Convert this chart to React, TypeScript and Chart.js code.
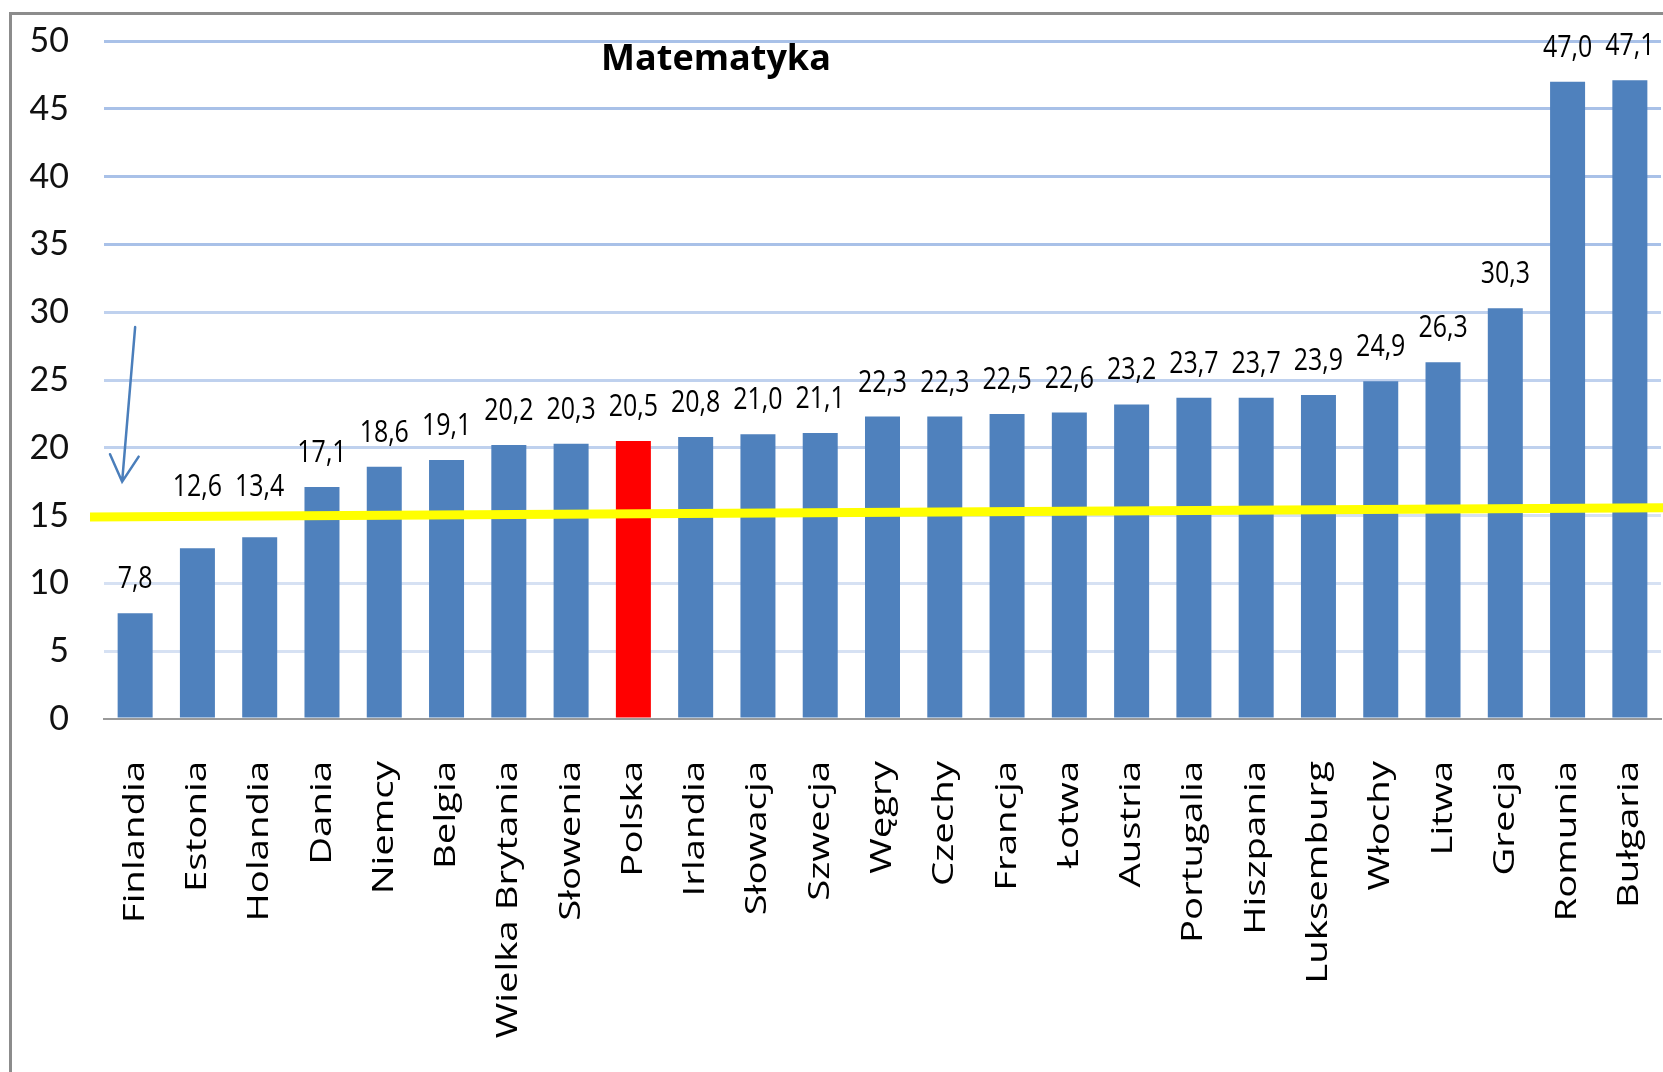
import React, { useEffect, useRef } from 'react';
import { Chart, registerables } from 'chart.js';

Chart.register(...registerables);

const TITLE = 'Matematyka';
const countries = [
  'Finlandia', 'Estonia', 'Holandia', 'Dania', 'Niemcy', 'Belgia', 'Wielka Brytania',
  'Słowenia', 'Polska', 'Irlandia', 'Słowacja', 'Szwecja', 'Węgry', 'Czechy', 'Francja',
  'Łotwa', 'Austria', 'Portugalia', 'Hiszpania', 'Luksemburg', 'Włochy', 'Litwa',
  'Grecja', 'Romunia', 'Bułgaria',
];
const values = [
  7.8, 12.6, 13.4, 17.1, 18.6, 19.1, 20.2, 20.3, 20.5, 20.8, 21.0, 21.1, 22.3, 22.3,
  22.5, 22.6, 23.2, 23.7, 23.7, 23.9, 24.9, 26.3, 30.3, 47.0, 47.1,
];
const highlighted = 'Polska';
const yMin = 0;
const yMax = 50;
const yStep = 5;
// hand-drawn yellow reference line: value at its left end, value at its right end
const referenceLine = [14.9, 15.57];
// arrow pointing down near the first category: start value, tip value
const arrowValues = [28.9, 17.5];

const fmt = (v: number) => v.toFixed(1).replace('.', ',');

const overlayPlugin = {
  id: 'overlay',
  afterDatasetsDraw(chart: any) {
    const { ctx, chartArea, scales } = chart;
    const x = scales.x;
    const y = scales.y;

    // yellow reference line
    const lx0 = chartArea.left - 14;
    const lx1 = chart.width;
    const ly0 = y.getPixelForValue(referenceLine[0]);
    const ly1 = y.getPixelForValue(referenceLine[1]);
    ctx.save();
    ctx.strokeStyle = '#FFFF00';
    ctx.lineWidth = 9;
    ctx.beginPath();
    ctx.moveTo(lx0, ly0);
    ctx.lineTo(lx1, ly1);
    ctx.stroke();
    ctx.restore();

    // arrow
    const cx = x.getPixelForValue(0);
    const ax0 = cx;
    const ay0 = y.getPixelForValue(arrowValues[0]);
    const ax1 = cx - 13;
    const ay1 = y.getPixelForValue(arrowValues[1]);
    const ang = Math.atan2(ay1 - ay0, ax1 - ax0);
    const head = 30;
    const spread = 0.5;
    ctx.save();
    ctx.strokeStyle = '#4A7EBB';
    ctx.lineWidth = 2.5;
    ctx.lineCap = 'round';
    ctx.beginPath();
    ctx.moveTo(ax0, ay0);
    ctx.lineTo(ax1, ay1);
    ctx.moveTo(ax1 - head * Math.cos(ang - spread), ay1 - head * Math.sin(ang - spread));
    ctx.lineTo(ax1, ay1);
    ctx.lineTo(ax1 - head * Math.cos(ang + spread), ay1 - head * Math.sin(ang + spread));
    ctx.stroke();
    ctx.restore();

    // data labels
    const meta = chart.getDatasetMeta(0);
    meta.data.forEach((bar: any, i: number) => {
      let base = bar.y - 25;
      const lineY = ly0 + ((ly1 - ly0) * (bar.x - lx0)) / (lx1 - lx0);
      if (base + 4 > lineY - 6 && base - 22 < lineY + 6) base = lineY - 20;
      ctx.save();
      ctx.translate(bar.x, base);
      ctx.scale(0.86, 1.08);
      ctx.font = '29px "Open Sans"';
      ctx.fillStyle = '#000';
      ctx.textAlign = 'center';
      ctx.textBaseline = 'alphabetic';
      ctx.fillText(fmt(values[i]), 0, 0);
      ctx.restore();
    });

    // category labels (rotated)
    countries.forEach((c, i) => {
      const px = x.getPixelForValue(i);
      ctx.save();
      ctx.translate(px, chartArea.bottom + 42);
      ctx.rotate(-Math.PI / 2);
      ctx.scale(1.28, 1);
      ctx.font = '30px "Open Sans"';
      ctx.fillStyle = '#000';
      ctx.textAlign = 'right';
      ctx.textBaseline = 'middle';
      ctx.fillText(c, 0, 0);
      ctx.restore();
    });

    // title
    ctx.save();
    ctx.font = 'bold 36px "Open Sans"';
    ctx.fillStyle = '#000';
    ctx.textAlign = 'center';
    ctx.textBaseline = 'alphabetic';
    ctx.fillText(TITLE, 716, 70);
    ctx.restore();
  },
};

export default function App() {
  const ref = useRef<HTMLCanvasElement | null>(null);

  useEffect(() => {
    if (!ref.current) return;
    const chart = new Chart(ref.current, {
      type: 'bar',
      data: {
        labels: countries,
        datasets: [
          {
            data: values,
            backgroundColor: countries.map((c) => (c === highlighted ? '#FF0000' : '#4F81BD')),
            borderWidth: 0,
            categoryPercentage: 1,
            barPercentage: 0.562,
          },
        ],
      },
      options: {
        responsive: false,
        animation: false,
        devicePixelRatio: 1,
        layout: { padding: { left: 0, top: 41, right: 2, bottom: 345 } },
        plugins: {
          legend: { display: false },
          tooltip: { enabled: false },
          title: { display: false },
        },
        scales: {
          x: {
            grid: { display: false },
            ticks: { display: false },
            border: { display: true, color: '#9a9a9a', width: 2 },
          },
          y: {
            min: yMin,
            max: yMax,
            afterFit: (scale: any) => {
              scale.width = 104;
              scale.paddingTop = 0;
            },
            ticks: {
              stepSize: yStep,
              padding: 35,
              color: '#111',
              font: { family: 'Lato', size: 34 },
            },
            grid: {
              drawTicks: false,
              lineWidth: 3,
              color: (c: any) => {
                const v = c.tick ? c.tick.value : 0;
                if (v === 0) return 'rgba(0,0,0,0)';
                if (v >= 35) return '#A9C1E8';
                if (v >= 20) return '#BFD1EE';
                return '#D6E1F3';
              },
            },
            border: { display: false },
          },
        },
      },
      plugins: [overlayPlugin],
    });
    return () => chart.destroy();
  }, []);

  return (
    <div
      style={{
        position: 'fixed',
        left: 0,
        top: 0,
        width: 1663,
        height: 1072,
        background: '#fff',
        overflow: 'hidden',
      }}
    >
      <canvas ref={ref} width={1663} height={1072} style={{ display: 'block' }} />
      <div
        style={{
          position: 'absolute',
          left: 9,
          top: 12,
          width: 1700,
          height: 1100,
          borderTop: '3px solid #8c8c8c',
          borderLeft: '3px solid #8c8c8c',
          pointerEvents: 'none',
        }}
      />
    </div>
  );
}
